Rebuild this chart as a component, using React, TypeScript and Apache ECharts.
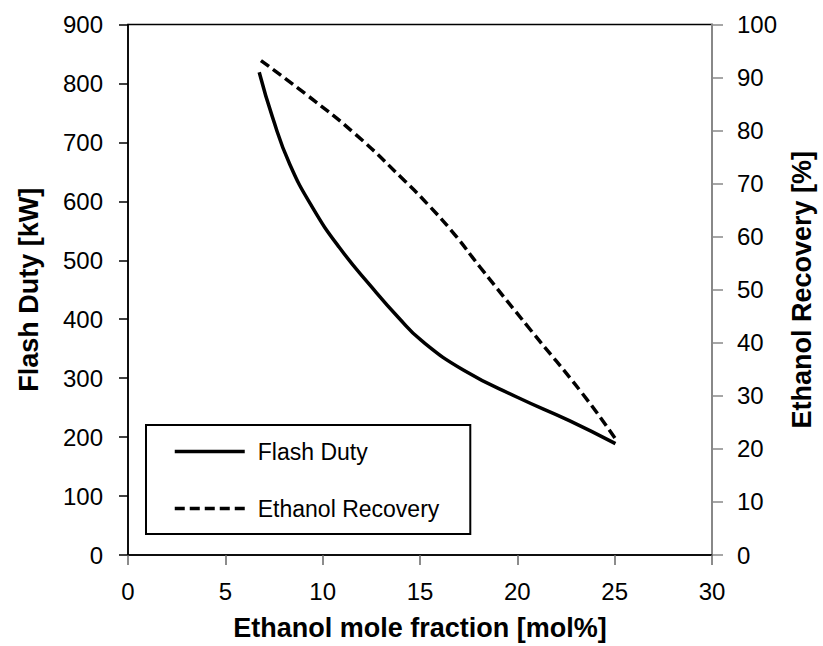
import React, { useEffect, useRef } from "react";
import * as echarts from "echarts";

// Flash Duty [kW] vs ethanol mole fraction [mol%]
const dutyX = [6.74, 7.43, 8.31, 9.49, 10.85, 12.53, 13.89, 15.07, 17.27, 19.97, 22.67, 25.04];
const dutyY = [819, 742, 663, 589, 522, 454, 403, 364, 313, 268, 228, 189];

// Ethanol Recovery [%] vs ethanol mole fraction [mol%]
const recX = [6.83, 9.16, 11.69, 14.22, 15.4, 16.76, 18.1, 20.64, 23.35, 25.04];
const recY = [93.2, 86.8, 79.3, 70.5, 66.1, 60.5, 54.2, 42.6, 30.4, 21.9];

const seriesNames = ["Flash Duty", "Ethanol Recovery"];
const axisTitles = {
  x: "Ethanol mole fraction [mol%]",
  yLeft: "Flash Duty [kW]",
  yRight: "Ethanol Recovery [%]",
};

const FONT = "'Liberation Sans', Arial, Helvetica, sans-serif";

export default function App() {
  const ref = useRef<HTMLDivElement>(null);

  useEffect(() => {
    document.body.style.margin = "0";
    if (!ref.current) return;
    const chart = echarts.init(ref.current, undefined, { renderer: "svg" });

    const pair = (xs: number[], ys: number[]) => xs.map((x, i) => [x, ys[i]]);

    chart.setOption({
      animation: false,
      backgroundColor: "#fff",
      textStyle: { fontFamily: FONT },
      grid: {
        left: 128,
        right: 104,
        top: 24.5,
        bottom: 91,
        show: true,
        borderColor: "#000",
        borderWidth: 1.5,
        backgroundColor: "transparent",
      },
      legend: {
        orient: "vertical",
        left: 146,
        top: 425,
        padding: [15, 31, 14, 27],
        itemWidth: 70,
        itemHeight: 24,
        itemGap: 34,
        borderColor: "#000",
        borderWidth: 2,
        backgroundColor: "#fff",
        itemStyle: { opacity: 0, borderWidth: 0 },
        lineStyle: { width: 3.5, color: "#000" },
        data: [
          { name: seriesNames[0], lineStyle: { width: 3.5, type: "solid" } },
          { name: seriesNames[1], lineStyle: { width: 3.5, type: [10, 5] } },
        ],
        textStyle: { fontSize: 23, color: "#000", fontFamily: FONT, padding: [0, 0, 0, 8] },
      },
      xAxis: {
        type: "value",
        min: 0,
        max: 30,
        interval: 5,
        name: axisTitles.x,
        nameLocation: "middle",
        nameGap: 59,
        nameTextStyle: { fontSize: 27, fontWeight: "bold", color: "#000", fontFamily: FONT },
        axisLine: { show: true, lineStyle: { color: "#000", width: 1.5 } },
        axisTick: { show: true, inside: false, length: 10, lineStyle: { color: "#666", width: 1.5 } },
        axisLabel: { fontSize: 24, color: "#000", margin: 24, fontFamily: FONT },
        splitLine: { show: false },
      },
      yAxis: [
        {
          type: "value",
          min: 0,
          max: 900,
          interval: 100,
          position: "left",
          name: axisTitles.yLeft,
          nameLocation: "middle",
          nameGap: 86,
          nameRotate: 90,
          nameTextStyle: { fontSize: 27, fontWeight: "bold", color: "#000", fontFamily: FONT },
          axisLine: { show: true, lineStyle: { color: "#000", width: 1.5 } },
          axisTick: { show: true, inside: false, length: 9, lineStyle: { color: "#000", width: 1.5 } },
          axisLabel: { fontSize: 24, color: "#000", margin: 25, fontFamily: FONT },
          splitLine: { show: false },
        },
        {
          type: "value",
          min: 0,
          max: 100,
          interval: 10,
          position: "right",
          name: axisTitles.yRight,
          nameLocation: "middle",
          nameGap: 76,
          nameRotate: 90,
          nameTextStyle: { fontSize: 27, fontWeight: "bold", color: "#000", fontFamily: FONT },
          axisLine: { show: true, lineStyle: { color: "#888", width: 2 } },
          axisTick: { show: true, inside: false, length: 11, lineStyle: { color: "#888", width: 1.5 } },
          axisLabel: { fontSize: 24, color: "#000", margin: 25, fontFamily: FONT },
          splitLine: { show: false },
        },
      ],
      series: [
        {
          name: seriesNames[0],
          type: "line",
          yAxisIndex: 0,
          data: pair(dutyX, dutyY),
          symbol: "none",
          smooth: 0.5,
          lineStyle: { color: "#000", width: 3.5, type: "solid" },
          itemStyle: { color: "#000" },
        },
        {
          name: seriesNames[1],
          type: "line",
          yAxisIndex: 1,
          data: pair(recX, recY),
          symbol: "none",
          smooth: 0.5,
          lineStyle: { color: "#000", width: 3.5, type: [10, 5] },
          itemStyle: { color: "#000" },
        },
      ],
    });

    return () => chart.dispose();
  }, []);

  return <div ref={ref} style={{ width: 823, height: 646 }} />;
}
